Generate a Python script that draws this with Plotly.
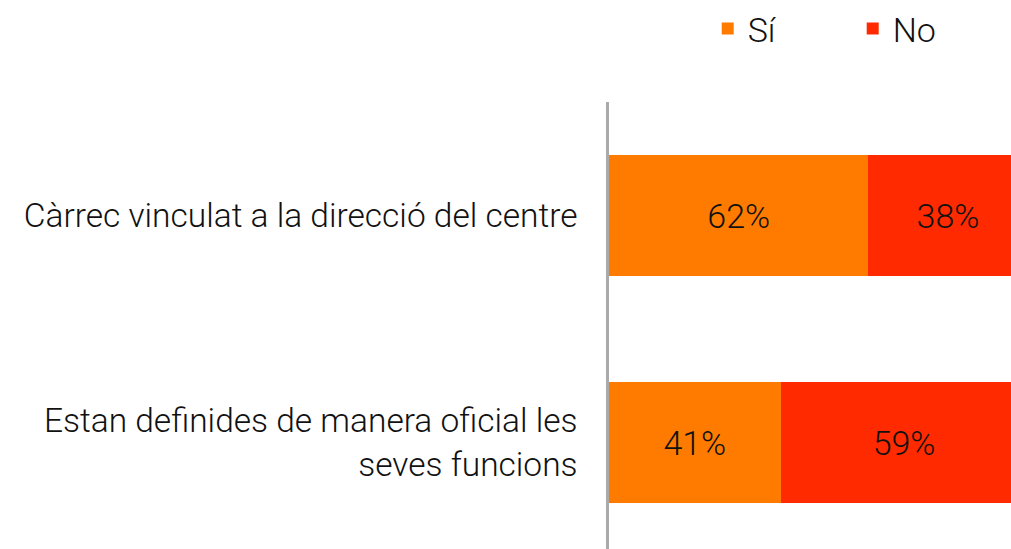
import plotly.graph_objects as go

categories = ["Càrrec vinculat a la direcció del centre",
              "Estan definides de manera oficial les<br>seves funcions"]
si_values = [62, 41]
no_values = [38, 59]
series_names = ["Sí", "No"]
colors = ["#FF7B00", "#FF2A00"]

FONT = "Roboto"
fig = go.Figure()
for name, vals, col in zip(series_names, [si_values, no_values], colors):
    fig.add_trace(go.Bar(
        y=categories, x=vals, name=name, orientation="h",
        marker=dict(color=col, line=dict(width=0)),
        text=[f"{v}%" for v in vals], textposition="inside",
        insidetextanchor="middle",
        textfont=dict(family=FONT, size=34, color="#111111", weight=300),
        width=0.529,
    ))

fig.update_layout(
    width=1011, height=549,
    barmode="stack",
    paper_bgcolor="white", plot_bgcolor="white",
    margin=dict(l=609, r=0, t=102, b=0),
    font=dict(family=FONT, size=34, color="#111111", weight=300),
    legend=dict(orientation="h", xref="container", yref="container",
                x=0.7, y=1.0, xanchor="left", yanchor="top",
                entrywidth=100, entrywidthmode="pixels",
                font=dict(family=FONT, size=34, color="#111111", weight=300),
                traceorder="normal"),
    xaxis=dict(range=[0, 96.05], showgrid=False, zeroline=False,
               showticklabels=False, showline=False, fixedrange=True),
    yaxis=dict(categoryorder="array", categoryarray=categories,
               range=[1.469, -0.5], showgrid=False, zeroline=False,
               showline=True, linecolor="#AAAAAA", linewidth=2.5,
               ticks="", ticklabelstandoff=22,
               tickfont=dict(family=FONT, size=33.5, color="#111111", weight=300)),
)

fig.write_html(
    "out.html",
    config={"displayModeBar": False},
    post_script="document.body.style.margin='0';document.documentElement.style.overflow='hidden';",
)
